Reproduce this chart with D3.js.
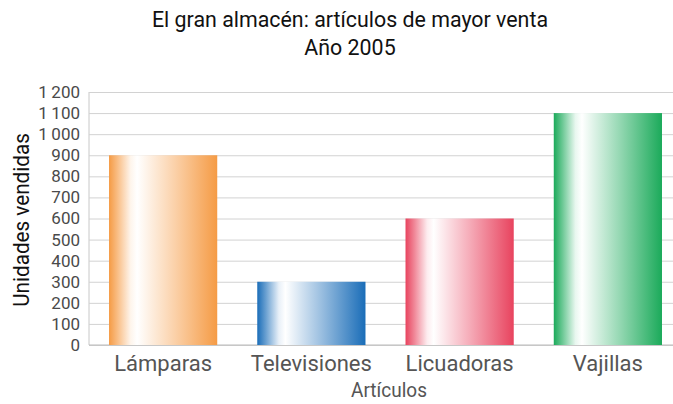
<!DOCTYPE html>
<html><head><meta charset="utf-8">
<script src="https://cdn.jsdelivr.net/npm/d3@7"></script>
<style>body{margin:0;background:#fff}svg{display:block}</style>
</head><body>
<svg id="c" width="673" height="404"></svg>
<script>
const categories = ["Lámparas", "Televisiones", "Licuadoras", "Vajillas"];
const values = [900, 300, 600, 1100];
const colors = ["#F59B45", "#1A6DB8", "#E8435E", "#1BAA5A"];
const yTicks = [0,100,200,300,400,500,600,700,800,900,1000,1100,1200];
const title1 = "El gran almacén: artículos de mayor venta";
const title2 = "Año 2005";

const font = "'Roboto', sans-serif";
const svg = d3.select("#c");
const L = 89, R = 673, T = 92, B = 345;
const x = d3.scaleBand().domain(categories).range([L, 682]).paddingInner(0.27).paddingOuter(0.135);
const y = d3.scaleLinear().domain([0, 1200]).range([B, T]);

const defs = svg.append("defs");
categories.forEach((c, i) => {
  const g = defs.append("linearGradient").attr("id", "g" + i).attr("x1", "0").attr("x2", "1").attr("y1", "0").attr("y2", "0");
  const col = colors[i];
  const stops = [[0, 0], [0.08, 0.35], [0.2, 0.9], [0.26, 1], [0.6, 0.55], [1, 0]];
  stops.forEach(([o, w]) => g.append("stop").attr("offset", o).attr("stop-color", d3.interpolateRgb(col, "#ffffff")(w)));
});

const yAxis = d3.axisLeft(y).tickValues(yTicks).tickSize(-(R - L)).tickPadding(9)
  .tickFormat(d => d >= 1000 ? Math.floor(d/1000) + "\u2009" + String(d % 1000).padStart(3, "0") : d);
const ga = svg.append("g").attr("transform", `translate(${L},0)`).call(yAxis);
ga.select(".domain").attr("stroke", "#c8c8c8").attr("d", `M0,${T}V${B}`);
ga.selectAll(".tick line").attr("stroke", "#d2d2d2");
ga.selectAll(".tick text").attr("fill", "#4a4a4a").style("font-family", font).style("font-size", "17px");
svg.append("line").attr("x1", L).attr("x2", R).attr("y1", B).attr("y2", B).attr("stroke", "#bbb");

svg.append("g").selectAll("rect").data(values).join("rect")
  .attr("x", (d, i) => x(categories[i]))
  .attr("width", x.bandwidth())
  .attr("y", d => y(d))
  .attr("height", d => B - y(d))
  .attr("fill", (d, i) => `url(#g${i})`);

const xAxis = d3.axisBottom(x).tickSize(0).tickPadding(10);
const gx = svg.append("g").attr("transform", `translate(0,${B})`).call(xAxis);
gx.select(".domain").remove();
gx.selectAll(".tick text").attr("fill", "#555").style("font-family", font).style("font-size", "22px");

svg.append("text").attr("transform", "translate(389,397) scale(0.95,1)").attr("text-anchor", "middle")
  .attr("fill", "#555").style("font-family", font).style("font-size", "20px").text("Artículos");
svg.append("text").attr("transform", "translate(29,220) rotate(-90) scale(0.94,1)").attr("text-anchor", "middle")
  .attr("fill", "#111").style("font-family", font).style("font-size", "22px").text("Unidades vendidas");
svg.append("text").attr("transform", "translate(350,27) scale(0.93,1)").attr("text-anchor", "middle")
  .attr("fill", "#111").style("font-family", font).style("font-size", "23px").text(title1);
svg.append("text").attr("transform", "translate(350,55) scale(0.93,1)").attr("text-anchor", "middle")
  .attr("fill", "#111").style("font-family", font).style("font-size", "23px").text(title2);
</script>
</body></html>
